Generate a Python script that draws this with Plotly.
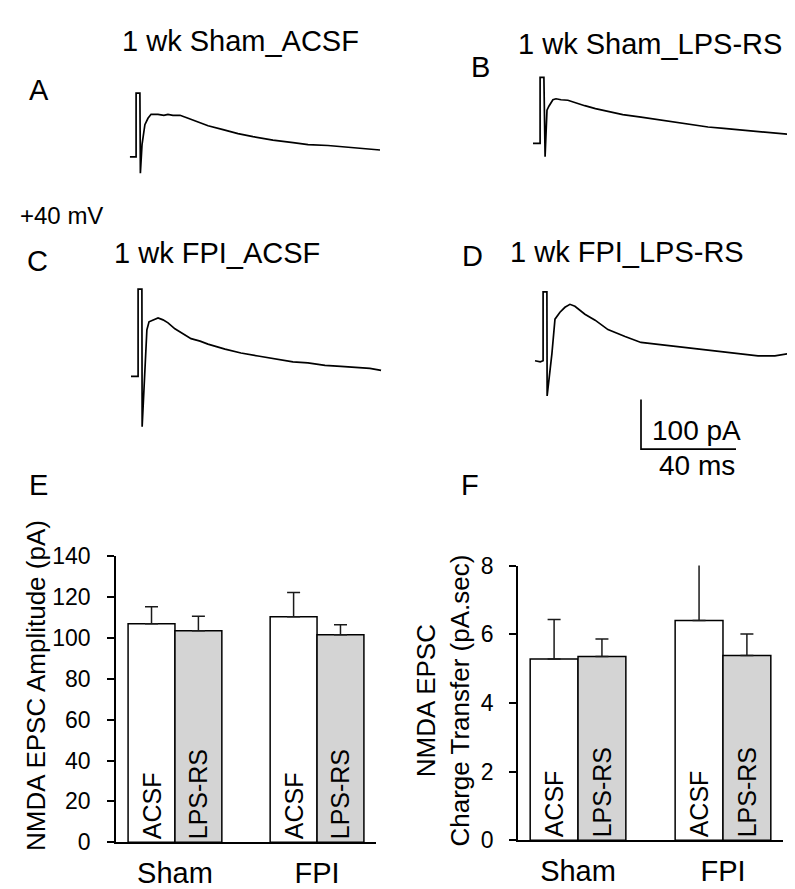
import plotly.graph_objects as go

W, H = 795, 889
FONT = "Arial, Liberation Sans, sans-serif"

# ---------------- example traces (time in ms from stimulus, current in pA from baseline)
trace_titles = ["1 wk Sham_ACSF", "1 wk Sham_LPS-RS", "1 wk FPI_ACSF", "1 wk FPI_LPS-RS"]

tA_ms = [-3.4, -0.8, -0.8, 0.8, 1.0, 1.7, 2.9, 4.2, 5.5, 8.4, 10.9, 12.6, 14.7, 17.7, 21.1,
         25.3, 29.5, 35.8, 42.1, 48.4, 56.8, 65.3, 71.6, 80.0, 88.4, 96.8, 101.9]
iA_pA = [0, 0, 129, 129, -33, 25, 65, 78, 86, 86, 84, 86, 84, 84, 78,
         71, 63, 55, 47, 41, 34, 29, 25, 23, 19, 16, 14]

tB_ms = [-3.8, -0.8, -0.8, 0.8, 1.3, 1.7, 2.1, 2.9, 4.6, 5.9, 8.0, 10.9, 13.9, 18.0, 22.5,
         27.8, 34.0, 41.7, 48.5, 56.0, 62.7, 69.9, 76.5, 83.8, 90.0, 97.0, 104.4]
iB_pA = [0, 0, 133, 133, -27, 22, 67, 75, 88, 90, 88, 87, 82, 76, 70,
         64, 58, 53, 48, 43, 38, 33, 30, 27, 24, 21, 18]

tC_ms = [-3.8, -0.8, -0.8, 0.8, 0.9, 2.1, 2.9, 3.8, 5.5, 7.6, 9.7, 11.8, 14.7, 18.1, 21.5,
         25.3, 28.6, 35.8, 42.5, 49.7, 56.8, 64.4, 70.7, 77.9, 84.6, 91.8, 96.8, 101.5]
iC_pA = [0, 0, 176, 176, -102, 12, 94, 110, 114, 118, 114, 108, 96, 86, 76,
         71, 65, 55, 47, 41, 35, 29, 27, 22, 20, 18, 16, 12]

tD_ms = [-4.2, -2.0, -0.8, -0.8, 0.8, 0.9, 2.1, 2.9, 4.2, 6.3, 8.4, 10.5, 12.6, 16.8, 21.1,
         26.5, 33.7, 40.4, 47.6, 54.7, 61.5, 68.6, 75.8, 82.5, 89.7, 96.8, 102.3, 104.4]
iD_pA = [0, -2, 0, 139, 139, -71, -20, 14, 84, 98, 108, 114, 110, 94, 82,
         63, 49, 37, 33, 29, 25, 22, 18, 14, 10, 10, 14, 12]

scale_bar_pA = 100
scale_bar_ms = 40

# ---------------- summary bar data
groups = ["Sham", "FPI"]
treatments = ["ACSF", "LPS-RS"]
amp_acsf = [107.0, 110.4]
amp_acsf_sem = [8.3, 11.9]
amp_lps = [103.6, 101.6]
amp_lps_sem = [7.1, 4.9]
ct_acsf = [5.28, 6.40]
ct_acsf_sem = [1.15, 1.66]
ct_lps = [5.35, 5.38]
ct_lps_sem = [0.51, 0.63]
amp_ticks = [0, 20, 40, 60, 80, 100, 120, 140]
ct_ticks = [0, 2, 4, 6, 8]

# ---------------- layout helpers
PX_PER_MS = 2.375
PX_PER_PA = 0.51
T_RANGE = [-8, 106]
I_RANGE = [-200, 200]


def fx(px):
    return px / W


def fy(py):
    return 1 - py / H


def trace_domains(x0, y0):
    xd = [fx(x0 + T_RANGE[0] * PX_PER_MS), fx(x0 + T_RANGE[1] * PX_PER_MS)]
    yd = [fy(y0 - I_RANGE[0] * PX_PER_PA), fy(y0 - I_RANGE[1] * PX_PER_PA)]
    return xd, yd


fig = go.Figure()

# ---------------- bars (E, F)
bar_line = dict(color="black", width=1.5)
err_style = dict(color="#1a1a1a", thickness=1.5, width=6.5)
txt_font = dict(family=FONT, size=25, color="black")


def add_bars(xa, ya, acsf, acsf_sem, lps, lps_sem):
    fig.add_trace(go.Bar(
        x=groups, y=acsf, xaxis=xa, yaxis=ya, name=treatments[0],
        marker=dict(color="white", line=bar_line),
        error_y=dict(type="data", array=acsf_sem, arrayminus=[0] * len(acsf), symmetric=False, **err_style),
        text=[treatments[0]] * len(acsf), textposition="inside", insidetextanchor="start",
        textangle=-90, textfont=txt_font, showlegend=False, hoverinfo="skip"))
    fig.add_trace(go.Bar(
        x=groups, y=lps, xaxis=xa, yaxis=ya, name=treatments[1],
        marker=dict(color="#d4d4d4", line=bar_line),
        error_y=dict(type="data", array=lps_sem, arrayminus=[0] * len(lps), symmetric=False, **err_style),
        text=[treatments[1]] * len(lps), textposition="inside", insidetextanchor="start",
        textangle=-90, textfont=txt_font, showlegend=False, hoverinfo="skip"))


add_bars("x", "y", amp_acsf, amp_acsf_sem, amp_lps, amp_lps_sem)
add_bars("x2", "y2", ct_acsf, ct_acsf_sem, ct_lps, ct_lps_sem)

# ---------------- traces (A-D)
trace_data = [(tA_ms, iA_pA), (tB_ms, iB_pA), (tC_ms, iC_pA), (tD_ms, iD_pA)]
trace_origin_px = [(130, 140), (534, 126), (132, 366), (537, 350)]
for k, (t, i) in enumerate(trace_data):
    n = k + 3
    fig.add_trace(go.Scatter(x=t, y=i, mode="lines", xaxis=f"x{n}", yaxis=f"y{n}",
                             line=dict(color="black", width=1.7), showlegend=False, hoverinfo="skip"))

# scale bar in the D axes
sb_t0 = (633 - 537) / PX_PER_MS
sb_i0 = (350 - 441) / PX_PER_PA
fig.add_trace(go.Scatter(x=[sb_t0, sb_t0, sb_t0 + scale_bar_ms],
                         y=[sb_i0 + scale_bar_pA, sb_i0, sb_i0],
                         mode="lines", xaxis="x6", yaxis="y6",
                         line=dict(color="black", width=1.7), showlegend=False, hoverinfo="skip"))

# ---------------- axes
hidden = dict(visible=False, showgrid=False, zeroline=False)
layout_axes = {}
for k, (x0, y0) in enumerate(trace_origin_px):
    n = k + 3
    xd, yd = trace_domains(x0, y0)
    layout_axes[f"xaxis{n}"] = dict(domain=xd, range=T_RANGE, anchor=f"y{n}", **hidden)
    layout_axes[f"yaxis{n}"] = dict(domain=yd, range=I_RANGE, anchor=f"x{n}", **hidden)

yax_common = dict(showgrid=False, zeroline=False, showline=True, linecolor="black", linewidth=1.5,
                  ticks="outside", ticklen=7, tickwidth=1.5, tickcolor="black",
                  tickfont=dict(family=FONT, size=23, color="black"))
xax_common = dict(showgrid=False, zeroline=False, showline=True, linecolor="black", linewidth=1.5,
                  ticks="", tickfont=dict(family=FONT, size=29, color="black"), ticklabelstandoff=4)

layout_axes["xaxis"] = dict(domain=[fx(108), fx(368)], range=[-0.415, 1.415], anchor="y", **xax_common)
layout_axes["yaxis"] = dict(domain=[fy(846), fy(551.5)], range=[0, 140], tickvals=amp_ticks,
                            anchor="x", ticklabelstandoff=12, **yax_common)
layout_axes["xaxis2"] = dict(domain=[fx(510), fx(775)], range=[-0.414, 1.414], anchor="y2", **xax_common)
layout_axes["yaxis2"] = dict(domain=[fy(844), fy(561)], range=[0, 8], tickvals=ct_ticks,
                             anchor="x2", ticklabelstandoff=11, **yax_common)


def ann(text, x, y, size, angle=0):
    return dict(text=text, x=fx(x), y=fy(y), xref="paper", yref="paper", showarrow=False,
                xanchor="center", yanchor="middle", textangle=angle,
                font=dict(family=FONT, size=size, color="black"))


annotations = [
    ann(trace_titles[0], 232, 21, 29),
    ann(trace_titles[1], 642, 24, 29),
    ann(trace_titles[2], 209, 239, 29),
    ann(trace_titles[3], 619, 238, 29),
    ann("A", 31, 71, 29),
    ann("B", 472, 47, 29),
    ann("C", 29, 247, 29),
    ann("D", 464, 242, 29),
    ann("E", 30, 478, 29),
    ann("F", 462, 478, 29),
    ann("+40 mV", 53, 200, 24),
    ann("100 pA", 688, 422, 28),
    ann("40 ms", 689, 458, 28),
    ann("NMDA EPSC Amplitude (pA)", 28, 685, 26, -90),
    ann("NMDA EPSC<br>Charge Transfer (pA.sec)", 435, 700, 26, -90),
]

fig.update_layout(
    width=W, height=H, margin=dict(l=0, r=0, t=0, b=0),
    paper_bgcolor="white", plot_bgcolor="rgba(0,0,0,0)",
    barmode="group", bargap=0.34, bargroupgap=0,
    uniformtext=dict(mode="show", minsize=10),
    annotations=annotations,
    font=dict(family=FONT, color="black"),
    **layout_axes,
)

fig.write_html("out.html")
